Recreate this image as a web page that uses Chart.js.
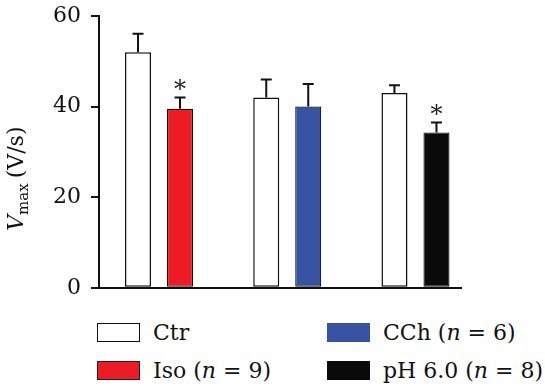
<!DOCTYPE html>
<html>
<head>
<meta charset="utf-8">
<script src="https://cdn.jsdelivr.net/npm/chart.js@4/dist/chart.umd.min.js"></script>
<style>
  body { margin: 0; background: #fff; width: 545px; height: 390px; overflow: hidden; position: relative; font-family: "DejaVu Serif", serif; }
  #wrap { position: absolute; left: 0; top: 0; width: 545px; height: 311px; }
  .leg { position: absolute; display: flex; align-items: center; font-size: 22px; color: #111; white-space: pre; }
  .sw { width: 43px; height: 19px; box-sizing: border-box; margin-right: 13px; }
  .leg i { font-style: italic; }
</style>
</head>
<body>
<div id="wrap"><canvas id="chart"></canvas></div>
<div class="leg" style="left:97px; top:320px;"><span class="sw" style="background:#fff;border:1.5px solid #111;"></span><span>Ctr</span></div>
<div class="leg" style="left:97px; top:358px;"><span class="sw" style="background:#ed1c24;border:1px solid #222;"></span><span>Iso (<i>n</i> = 9)</span></div>
<div class="leg" style="left:327px; top:320px;"><span class="sw" style="background:#3953a4;"></span><span>CCh (<i>n</i> = 6)</span></div>
<div class="leg" style="left:327px; top:358px;"><span class="sw" style="background:#0a0a0a;"></span><span>pH 6.0 (<i>n</i> = 8)</span></div>
<script>
// groups: Iso, CCh, pH 6.0 experiments, each with its own control
const groupPos = [0, 1, 2];
const ctrValues = [52, 42, 43];
const ctrErr = [4.1, 4.0, 1.7];
const treatValues = [39.5, 40, 34.3];
const treatErr = [2.5, 5.0, 2.2];
const treatColors = ['#ed1c24', '#3953a4', '#0a0a0a'];
const significant = [true, false, true];
const yTicks = [0, 20, 40, 60];

const errors = [ctrErr, treatErr];

const errorBars = {
  id: 'errorBars',
  afterDatasetsDraw(chart) {
    const ctx = chart.ctx;
    const y = chart.scales.y;
    ctx.save();
    ctx.strokeStyle = '#111';
    ctx.lineWidth = 2;
    chart.data.datasets.forEach((ds, di) => {
      const meta = chart.getDatasetMeta(di);
      meta.data.forEach((bar, i) => {
        const top = y.getPixelForValue(ds.data[i].y + errors[di][i]);
        ctx.beginPath();
        ctx.moveTo(bar.x, bar.y);
        ctx.lineTo(bar.x, top);
        ctx.moveTo(bar.x - 5.5, top);
        ctx.lineTo(bar.x + 5.5, top);
        ctx.stroke();
        if (di === 1 && significant[i]) {
          ctx.fillStyle = '#222';
          ctx.font = '24px "DejaVu Serif"';
          ctx.textAlign = 'center';
          ctx.textBaseline = 'alphabetic';
          ctx.fillText('*', bar.x, top - 15 + 0.59 * 24);
        }
      });
    });
    ctx.restore();
  }
};

const yTitle = {
  id: 'yTitle',
  afterDraw(chart) {
    const ctx = chart.ctx;
    const area = chart.chartArea;
    ctx.save();
    ctx.translate(23, area.bottom - 57);
    ctx.rotate(-Math.PI / 2);
    ctx.fillStyle = '#111';
    ctx.textBaseline = 'alphabetic';
    ctx.textAlign = 'left';
    ctx.font = 'italic 22px "DejaVu Serif"';
    ctx.fillText('V', 0, 0);
    let x = ctx.measureText('V').width;
    ctx.font = '15px "DejaVu Serif"';
    ctx.fillText('max', x, 5);
    x += ctx.measureText('max').width + 5;
    ctx.font = '22px "DejaVu Serif"';
    ctx.fillText('(V/s)', x, 0);
    ctx.restore();
  }
};

new Chart(document.getElementById('chart'), {
  type: 'bar',
  data: {
    datasets: [{
      label: 'Ctr',
      data: groupPos.map((p, i) => ({ x: p, y: ctrValues[i] })),
      backgroundColor: '#fff',
      borderColor: '#111',
      borderWidth: 1.5,
      borderSkipped: false,
      categoryPercentage: 0.655,
      barPercentage: 0.62
    }, {
      label: 'Treatment',
      data: groupPos.map((p, i) => ({ x: p, y: treatValues[i] })),
      backgroundColor: treatColors,
      borderColor: '#111',
      borderWidth: 1.2,
      borderSkipped: false,
      categoryPercentage: 0.655,
      barPercentage: 0.62
    }]
  },
  options: {
    responsive: true,
    maintainAspectRatio: false,
    animation: false,
    layout: { padding: { top: 16, right: 84, left: 0, bottom: 3 } },
    plugins: { legend: { display: false }, tooltip: { enabled: false } },
    scales: {
      x: {
        type: 'linear',
        offset: false,
        min: -0.468,
        max: 2.355,
        afterBuildTicks(scale) { scale.ticks = groupPos.map(v => ({ value: v })); },
        ticks: { display: false },
        grid: { display: false, offset: false },
        border: { display: true, color: '#111', width: 2 }
      },
      y: {
        min: 0,
        max: 60,
        afterBuildTicks(scale) { scale.ticks = yTicks.map(v => ({ value: v })); },
        afterFit(scale) { scale.width = 99; scale.paddingTop = 0; },
        ticks: { color: '#111', padding: 10, font: { family: 'DejaVu Serif', size: 22 } },
        grid: { drawOnChartArea: false, tickLength: 8, color: '#111', lineWidth: 2 },
        border: { display: true, color: '#111', width: 2 }
      }
    }
  },
  plugins: [errorBars, yTitle]
});
</script>
</body>
</html>
